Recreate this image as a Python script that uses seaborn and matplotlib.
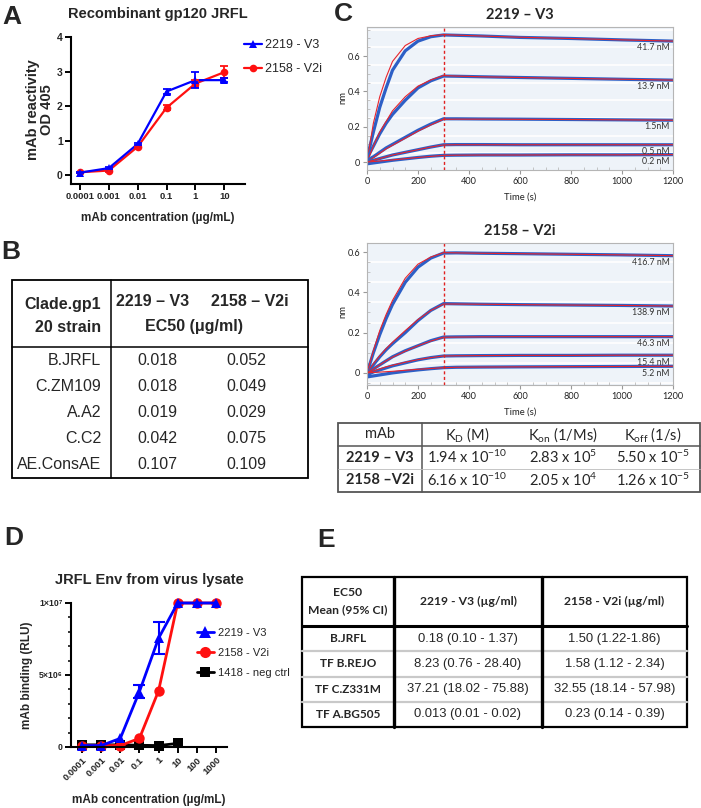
import numpy as np
import pandas as pd
import matplotlib
matplotlib.use("Agg")
import matplotlib.pyplot as plt
import seaborn as sns
from matplotlib.patches import Rectangle
from matplotlib.lines import Line2D
from matplotlib.ticker import FixedLocator, MultipleLocator, NullLocator

# ======================= DATA =======================
# Panel A : ELISA, recombinant gp120 JRFL
conc_a = [0.0001, 0.001, 0.01, 0.1, 1, 10]
a_tick_labels = ["0.0001", "0.001", "0.01", "0.1", "1", "10"]
a_v3 = [0.07, 0.20, 0.90, 2.42, 2.75, 2.75]
a_v3_err = [0.02, 0.03, 0.03, 0.08, 0.24, 0.05]
a_v2i = [0.08, 0.13, 0.82, 1.95, 2.65, 2.98]
a_v2i_err = [0.02, 0.03, 0.03, 0.08, 0.10, 0.17]
lab_v3 = "2219 - V3"
lab_v2i = "2158 - V2i"

# Panel B : EC50 table
b_strains = ["B.JRFL", "C.ZM109", "A.A2", "C.C2", "AE.ConsAE"]
b_v3 = ["0.018", "0.018", "0.019", "0.042", "0.107"]
b_v2i = ["0.052", "0.049", "0.029", "0.075", "0.109"]

# Panel C : BLI sensorgrams (nm vs time, s)
c_time = [0, 25, 50, 75, 100, 150, 200, 250, 300, 350, 450, 600, 800, 1000, 1200]
c_top_labels = ["41.7 nM", "13.9 nM", "1.5nM", "0.5 nM", "0.2 nM"]
c_top_obs = [
    [0.02, 0.17, 0.31, 0.42, 0.52, 0.63, 0.685, 0.71, 0.72, 0.718, 0.714, 0.706, 0.70, 0.692, 0.685],
    [0.02, 0.09, 0.16, 0.22, 0.27, 0.35, 0.42, 0.46, 0.487, 0.486, 0.483, 0.479, 0.474, 0.469, 0.464],
    [0.01, 0.03, 0.055, 0.08, 0.10, 0.14, 0.18, 0.215, 0.245, 0.245, 0.244, 0.243, 0.241, 0.239, 0.237],
    [0.0, 0.01, 0.02, 0.03, 0.04, 0.055, 0.07, 0.085, 0.098, 0.099, 0.099, 0.098, 0.098, 0.098, 0.098],
    [-0.01, -0.005, 0.0, 0.005, 0.01, 0.018, 0.026, 0.033, 0.038, 0.039, 0.040, 0.040, 0.041, 0.041, 0.042],
]
c_top_fit = [
    [0.0, 0.22, 0.37, 0.48, 0.57, 0.66, 0.70, 0.715, 0.722, 0.719, 0.714, 0.707, 0.70, 0.692, 0.685],
    [0.0, 0.09, 0.17, 0.23, 0.29, 0.37, 0.43, 0.465, 0.49, 0.487, 0.483, 0.479, 0.474, 0.469, 0.464],
    [0.0, 0.025, 0.05, 0.075, 0.095, 0.135, 0.175, 0.21, 0.242, 0.243, 0.243, 0.242, 0.241, 0.239, 0.237],
    [0.0, 0.01, 0.02, 0.03, 0.04, 0.055, 0.07, 0.085, 0.097, 0.098, 0.098, 0.098, 0.098, 0.098, 0.098],
    [0.0, 0.003, 0.006, 0.009, 0.012, 0.019, 0.026, 0.032, 0.038, 0.039, 0.040, 0.040, 0.041, 0.041, 0.042],
]
c_bot_labels = ["416.7 nM", "138.9 nM", "46.3 nM", "15.4 nM", "5.2 nM"]
c_bot_obs = [
    [0.0, 0.10, 0.19, 0.27, 0.34, 0.45, 0.525, 0.57, 0.595, 0.596, 0.594, 0.592, 0.589, 0.586, 0.582],
    [0.0, 0.04, 0.08, 0.115, 0.145, 0.20, 0.26, 0.31, 0.344, 0.343, 0.341, 0.339, 0.337, 0.335, 0.332],
    [0.0, 0.02, 0.04, 0.06, 0.08, 0.11, 0.135, 0.16, 0.178, 0.179, 0.18, 0.18, 0.18, 0.18, 0.18],
    [-0.01, 0.005, 0.015, 0.025, 0.035, 0.05, 0.065, 0.076, 0.084, 0.085, 0.086, 0.087, 0.087, 0.088, 0.088],
    [-0.02, -0.015, -0.01, -0.005, 0.0, 0.008, 0.015, 0.021, 0.026, 0.028, 0.029, 0.030, 0.031, 0.032, 0.033],
]
c_bot_fit = [
    [0.0, 0.11, 0.21, 0.29, 0.36, 0.47, 0.54, 0.575, 0.597, 0.596, 0.594, 0.592, 0.589, 0.586, 0.582],
    [0.0, 0.045, 0.085, 0.12, 0.152, 0.21, 0.265, 0.31, 0.342, 0.342, 0.341, 0.339, 0.337, 0.335, 0.332],
    [0.0, 0.02, 0.04, 0.06, 0.078, 0.108, 0.135, 0.158, 0.177, 0.178, 0.179, 0.18, 0.18, 0.18, 0.18],
    [0.0, 0.01, 0.02, 0.03, 0.038, 0.053, 0.066, 0.076, 0.084, 0.085, 0.086, 0.087, 0.087, 0.088, 0.088],
    [0.0, 0.002, 0.004, 0.006, 0.008, 0.013, 0.018, 0.022, 0.026, 0.028, 0.029, 0.030, 0.031, 0.032, 0.033],
]
c_x_ticks = [0, 200, 400, 600, 800, 1000, 1200]

# Panel C : kinetic constants table
k_mabs = ["2219 – V3", "2158 –V2i"]
k_kd_mant = ["1.94", "6.16"]
k_kd_exp = ["-10", "-10"]
k_on_mant = ["2.83", "2.05"]
k_on_exp = ["5", "4"]
k_off_mant = ["5.50", "1.26"]
k_off_exp = ["-5", "-5"]

# Panel D : virus lysate binding
conc_d = [0.0001, 0.001, 0.01, 0.1, 1, 10, 100, 1000]
d_tick_labels = ["0.0001", "0.001", "0.01", "0.1", "1", "10", "100", "1000"]
d_v3 = [0.1e6, 0.1e6, 0.6e6, 3.85e6, 7.55e6, 1.0e7, 1.0e7, 1.0e7]
d_v3_err = [0, 0, 0, 0.45e6, 1.1e6, 0, 0, 0]
d_v2i = [0.1e6, 0.1e6, 0.1e6, 0.6e6, 3.9e6, 1.0e7, 1.0e7, 1.0e7]
conc_neg = [0.0001, 0.001, 0.01, 0.1, 1, 10]
d_neg = [0.15e6, 0.15e6, 0.15e6, 0.12e6, 0.1e6, 0.25e6]
lab_neg = "1418 - neg ctrl"

# Panel E : EC50 table
e_strains = ["B.JRFL", "TF B.REJO", "TF C.Z331M", "TF A.BG505"]
e_v3 = ["0.18 (0.10 - 1.37)", "8.23 (0.76 - 28.40)", "37.21 (18.02 - 75.88)", "0.013 (0.01 - 0.02)"]
e_v2i = ["1.50 (1.22-1.86)", "1.58 (1.12 - 2.34)", "32.55 (18.14 - 57.98)", "0.23 (0.14 - 0.39)"]

# ======================= STYLE =======================
sns.set_theme(style="ticks")
plt.rcParams["font.family"] = ["Liberation Sans", "DejaVu Sans"]
plt.rcParams["mathtext.fontset"] = "custom"
plt.rcParams["mathtext.rm"] = "Lato"
plt.rcParams["mathtext.it"] = "Lato:italic"
plt.rcParams["mathtext.bf"] = "Lato:bold"

BLUE = "#0000ff"
RED = "#ff1010"
W, H = 701, 808
fig = plt.figure(figsize=(W / 100, H / 100), dpi=100)
fig.patch.set_facecolor("white")


def rect(x0, y0, x1, y1):
    return [x0 / W, 1 - y1 / H, (x1 - x0) / W, (y1 - y0) / H]


def place_labels(ax, r, xl=None, yl=None):
    x0, y0, x1, y1 = r
    if xl is not None:
        ax.xaxis.set_label_coords((xl[0] - x0) / (x1 - x0), (y1 - xl[1]) / (y1 - y0))
        ax.xaxis.label.set_va("center")
    if yl is not None:
        ax.yaxis.set_label_coords((yl[0] - x0) / (x1 - x0), (y1 - yl[1]) / (y1 - y0))
        ax.yaxis.label.set_va("center")


def prism(ax):
    sns.despine(ax=ax)
    for s in ["left", "bottom"]:
        ax.spines[s].set_linewidth(1.5)
        ax.spines[s].set_color("black")
    ax.tick_params(axis="both", which="major", direction="out", length=4,
                   width=1.4, color="black", pad=2)
    ax.patch.set_alpha(0)


# overlay axes in pixel coordinates (tables, panel letters)
ov = fig.add_axes([0, 0, 1, 1])
ov.set_xlim(0, W)
ov.set_ylim(H, 0)
ov.axis("off")

for letter, (lx, ly) in {"A": (2, 17), "B": (1, 252), "C": (334, 14),
                         "D": (4, 538), "E": (317, 540)}.items():
    ov.text(lx, ly, letter, fontsize=19, fontweight="bold", ha="left", va="center")

# ======================= PANEL A =======================
rA = (71, 37, 245, 184)
axA = fig.add_axes(rect(*rA))
axA.set_xscale("log")
dfA = pd.DataFrame({"conc": conc_a * 2, "od": a_v2i + a_v3,
                    "mAb": [lab_v2i] * len(conc_a) + [lab_v3] * len(conc_a)})
sns.lineplot(data=dfA, x="conc", y="od", hue="mAb", style="mAb",
             palette={lab_v3: BLUE, lab_v2i: RED},
             markers={lab_v3: "^", lab_v2i: "o"}, dashes=False,
             markersize=5.5, markeredgewidth=0, linewidth=1.6,
             legend=False, ax=axA, clip_on=False)
axA.errorbar(conc_a, a_v2i, yerr=a_v2i_err, fmt="none", ecolor=RED,
             elinewidth=1.3, capsize=3, capthick=1.3)
axA.errorbar(conc_a, a_v3, yerr=a_v3_err, fmt="none", ecolor=BLUE,
             elinewidth=1.3, capsize=3, capthick=1.3)
axA.set_xlim(10 ** -4.31, 10 ** 1.72)
axA.set_ylim(-0.26, 4.0)
prism(axA)
axA.xaxis.set_major_locator(FixedLocator(conc_a))
axA.xaxis.set_minor_locator(NullLocator())
axA.set_xticklabels(a_tick_labels, fontsize=6.8, fontweight="bold")
axA.set_yticks([0, 1, 2, 3, 4])
axA.set_yticklabels(["0", "1", "2", "3", "4"], fontsize=7.5, fontweight="bold")
axA.set_title("Recombinant gp120 JRFL", fontsize=10.5, fontweight="bold", pad=14)
axA.set_xlabel("mAb concentration (µg/mL)", fontsize=8.5, fontweight="bold")
axA.set_ylabel("mAb reactivity\nOD 405", fontsize=10.5, fontweight="bold",
               linespacing=1.05)
place_labels(axA, rA, xl=(158, 218), yl=(40, 110))
hA = [Line2D([], [], color=BLUE, marker="^", ms=5.5, mew=0, lw=1.6),
      Line2D([], [], color=RED, marker="o", ms=5.5, mew=0, lw=1.6)]
fig.legend(hA, [lab_v3, lab_v2i], loc="upper left",
           bbox_to_anchor=(244 / W, 1 - 39 / H), frameon=False, fontsize=9,
           handlelength=1.4, handletextpad=0.3, labelspacing=0.95, borderpad=0,
           borderaxespad=0)

# ======================= PANEL B =======================
bx0, bx1, by0, by1 = 12, 308, 280, 478
bcol, bhead = 111, 347
ov.add_patch(Rectangle((bx0, by0), bx1 - bx0, by1 - by0, fill=False, ec="black", lw=1.3))
ov.plot([bcol, bcol], [by0, by1], color="black", lw=1.1)
ov.plot([bx0, bx1], [bhead, bhead], color="black", lw=1.1)
fsB = 11.5
ov.text(101, 304, "Clade.gp1", ha="right", va="center", fontsize=fsB, fontweight="bold")
ov.text(101, 327, "20 strain", ha="right", va="center", fontsize=fsB, fontweight="bold")
ov.text(153, 301, "2219 – V3", ha="center", va="center", fontsize=fsB, fontweight="bold")
ov.text(250, 301, "2158 – V2i", ha="center", va="center", fontsize=fsB, fontweight="bold")
ov.text(194, 327, "EC50 (μg/ml)", ha="center", va="center", fontsize=fsB, fontweight="bold")
row_b = (by1 - bhead) / len(b_strains)
for i, (s, v1, v2) in enumerate(zip(b_strains, b_v3, b_v2i)):
    yc = bhead + row_b * (i + 0.5)
    ov.text(101, yc, s, ha="right", va="center", fontsize=fsB)
    ov.text(157, yc, v1, ha="center", va="center", fontsize=fsB)
    ov.text(246, yc, v2, ha="center", va="center", fontsize=fsB)

# ======================= PANEL C =======================
CBLUE = "#2d5fc6"
CRED = "#e8242c"


def kinetics(r, obs, fit, labels, ylim, yticks, title):
    ax = fig.add_axes(rect(*r))
    ax.set_facecolor("#eef3f9")
    for yy in np.arange(-0.1, 0.8, 0.1):
        ax.axhline(yy + 0.05, color="white", lw=1.2, zorder=0)
    for tr, ft, lab in zip(obs, fit, labels):
        sns.lineplot(x=c_time, y=tr, ax=ax, color=CBLUE, lw=2.3, estimator=None)
        sns.lineplot(x=c_time, y=ft, ax=ax, color=CRED, lw=0.8, estimator=None)
        ax.text(1187, tr[-1] - 0.012, lab, ha="right", va="top", fontsize=6.3,
                family="Lato", color="#333333")
    ax.axvline(300, color="#e02020", ls=(0, (2.2, 1.8)), lw=1.0)
    ax.set_xlim(0, 1200)
    ax.set_ylim(*ylim)
    ax.set_xticks(c_x_ticks)
    ax.set_xticklabels([str(t) for t in c_x_ticks], family="Lato", fontsize=6.6, color="#222")
    ax.set_yticks(yticks)
    ax.set_yticklabels([f"{t:g}" for t in yticks], family="Lato", fontsize=6.6, color="#222")
    ax.xaxis.set_minor_locator(MultipleLocator(50))
    ax.yaxis.set_minor_locator(MultipleLocator(0.05))
    ax.tick_params(which="major", direction="out", length=3, width=0.8, color="#999", pad=2)
    ax.tick_params(which="minor", direction="in", length=2, width=0.6, color="#bbb")
    for s in ax.spines.values():
        s.set_color("#b5b5b5")
        s.set_linewidth(0.8)
    ax.set_xlabel("Time (s)", family="Lato", fontsize=6.8, color="#222")
    ax.set_ylabel("nm", family="Lato", fontsize=6.8, color="#222")
    ax.set_title(title, family="Lato", fontsize=10.5, fontweight="bold", pad=6)
    return ax


rC1 = (367, 27, 673, 170)
axC1 = kinetics(rC1, c_top_obs, c_top_fit, c_top_labels, (-0.045, 0.765),
                [0, 0.2, 0.4, 0.6], "2219 – V3")
place_labels(axC1, rC1, xl=(520, 197), yl=(343, 98))
cdy = 10
rC2 = (367, 233 + cdy, 673, 375 + cdy)
axC2 = kinetics(rC2, c_bot_obs, c_bot_fit, c_bot_labels, (-0.06, 0.645),
                [0, 0.2, 0.4, 0.6], "2158 – V2i")
place_labels(axC2, rC2, xl=(520, 402 + cdy), yl=(343, 302 + cdy))

# kinetic table
kx0, kx1, ky0, ky1 = 338, 700, 413 + cdy, 482 + cdy
kcol = 422
krow = (ky1 - ky0) / 3
ov.add_patch(Rectangle((kx0, ky0), kx1 - kx0, ky1 - ky0, fill=False, ec="#555", lw=1.3))
ov.plot([kcol, kcol], [ky0, ky1], color="#555", lw=1.1)
ov.plot([kx0, kx1], [ky0 + krow, ky0 + krow], color="#555", lw=1.1)
ov.plot([kx0, kx1], [ky0 + 2 * krow, ky0 + 2 * krow], color="#bbb", lw=0.6)
kc = [380, 467, 563, 653]
fsK = 10.5
yh = ky0 + krow / 2
ov.text(kc[0], yh, "mAb", ha="center", va="center", family="Lato", fontsize=fsK)
ov.text(kc[1], yh, r"K$_{\mathrm{D}}$ (M)", ha="center", va="center", family="Lato", fontsize=fsK)
ov.text(kc[2], yh, r"K$_{\mathrm{on}}$ (1/Ms)", ha="center", va="center", family="Lato", fontsize=fsK)
ov.text(kc[3], yh, r"K$_{\mathrm{off}}$ (1/s)", ha="center", va="center", family="Lato", fontsize=fsK)
for i in range(len(k_mabs)):
    yc = ky0 + krow * (i + 1.5)
    ov.text(kc[0], yc, k_mabs[i], ha="center", va="center", family="Lato",
            fontsize=fsK, fontweight="bold")
    for c, m, e in zip(kc[1:], [k_kd_mant, k_on_mant, k_off_mant],
                       [k_kd_exp, k_on_exp, k_off_exp]):
        ov.text(c, yc, m[i] + r" x 10$^{\mathrm{" + e[i] + "}}$", ha="center",
                va="center", family="Lato", fontsize=fsK)

# ======================= PANEL D =======================
rD = (71, 603, 227, 747)
axD = fig.add_axes(rect(*rD))
axD.set_xscale("log")
dfD = pd.DataFrame({
    "conc": conc_neg + conc_d + conc_d,
    "rlu": d_neg + d_v2i + d_v3,
    "mAb": [lab_neg] * len(conc_neg) + [lab_v2i] * len(conc_d) + [lab_v3] * len(conc_d),
})
sns.lineplot(data=dfD, x="conc", y="rlu", hue="mAb", style="mAb",
             palette={lab_v3: BLUE, lab_v2i: RED, lab_neg: "black"},
             markers={lab_v3: "^", lab_v2i: "o", lab_neg: "s"}, dashes=False,
             markersize=7.5, markeredgewidth=0, linewidth=2.0,
             legend=False, ax=axD, clip_on=False)
err_x = [c for c, e in zip(conc_d, d_v3_err) if e > 0]
err_y = [v for v, e in zip(d_v3, d_v3_err) if e > 0]
err_e = [e for e in d_v3_err if e > 0]
axD.errorbar(err_x, err_y, yerr=err_e, fmt="none", ecolor=BLUE, elinewidth=1.5,
             capsize=4, capthick=1.5, clip_on=False)
axD.set_xlim(10 ** -4.58, 10 ** 3.58)
axD.set_ylim(0, 1.0e7)
prism(axD)
axD.xaxis.set_major_locator(FixedLocator(conc_d))
axD.xaxis.set_minor_locator(NullLocator())
axD.set_xticklabels(d_tick_labels, fontsize=6.8, fontweight="bold", rotation=45,
                    ha="right", rotation_mode="anchor")
axD.set_yticks([0, 5e6, 1e7])
axD.set_yticklabels(["0", "5×10⁶", "1×10⁷"], fontsize=6.3, fontweight="bold")
axD.yaxis.set_minor_locator(MultipleLocator(1e6))
axD.tick_params(axis="y", which="minor", direction="out", length=2.5, width=1.1, color="black")
axD.set_title("JRFL Env from virus lysate", fontsize=10.5, fontweight="bold", pad=14)
axD.set_xlabel("mAb concentration (µg/mL)", fontsize=8.5, fontweight="bold")
axD.set_ylabel("mAb binding (RLU)", fontsize=8.5, fontweight="bold")
place_labels(axD, rD, xl=(149, 800), yl=(27, 675))
hD = [Line2D([], [], color=BLUE, marker="^", ms=8, mew=0, lw=2),
      Line2D([], [], color=RED, marker="o", ms=8, mew=0, lw=2),
      Line2D([], [], color="black", marker="s", ms=7, mew=0, lw=2)]
fig.legend(hD, [lab_v3, lab_v2i, lab_neg], loc="upper left",
           bbox_to_anchor=(197 / W, 1 - 628 / H), frameon=False, fontsize=8,
           handlelength=1.5, handletextpad=0.35, labelspacing=0.9, borderpad=0,
           borderaxespad=0)

# ======================= PANEL E =======================
ex0, ex1, ey0, ey1 = 302, 687, 577, 727
ecol1, ecol2, ehead = 394, 542, 626
row_e = (ey1 - ehead) / len(e_strains)
for i in range(1, len(e_strains)):
    yy = ehead + row_e * i
    ov.plot([ex0, ex1], [yy, yy], color="#c9c9c9", lw=1.6)
ov.add_patch(Rectangle((ex0, ey0), ex1 - ex0, ey1 - ey0, fill=False, ec="black", lw=1.6))
ov.plot([ecol1, ecol1], [ey0, ey1], color="black", lw=2.4)
ov.plot([ecol2, ecol2], [ey0, ey1], color="black", lw=2.4)
ov.plot([ex0, ex1], [ehead, ehead], color="black", lw=2.2)
c0, c1, c2 = (ex0 + ecol1) / 2, (ecol1 + ecol2) / 2, (ecol2 + ex1) / 2
fsEh = 8.7
ov.text(c0, 592, "EC50", ha="center", va="center", family="Lato", fontsize=fsEh, fontweight="bold")
ov.text(c0, 610, "Mean (95% CI)", ha="center", va="center", family="Lato", fontsize=fsEh, fontweight="bold")
ov.text(c1, 601, "2219 - V3 (µg/ml)", ha="center", va="center", family="Lato", fontsize=fsEh, fontweight="bold")
ov.text(c2, 601, "2158 - V2i (µg/ml)", ha="center", va="center", family="Lato", fontsize=fsEh, fontweight="bold")
for i, (s, v1, v2) in enumerate(zip(e_strains, e_v3, e_v2i)):
    yc = ehead + row_e * (i + 0.5)
    ov.text(c0, yc, s, ha="center", va="center", family="Lato", fontsize=8.5, fontweight="bold")
    ov.text(c1, yc, v1, ha="center", va="center", fontsize=9.4)
    ov.text(c2, yc, v2, ha="center", va="center", fontsize=9.4)

fig.savefig("out.png", dpi=100, facecolor="white")
